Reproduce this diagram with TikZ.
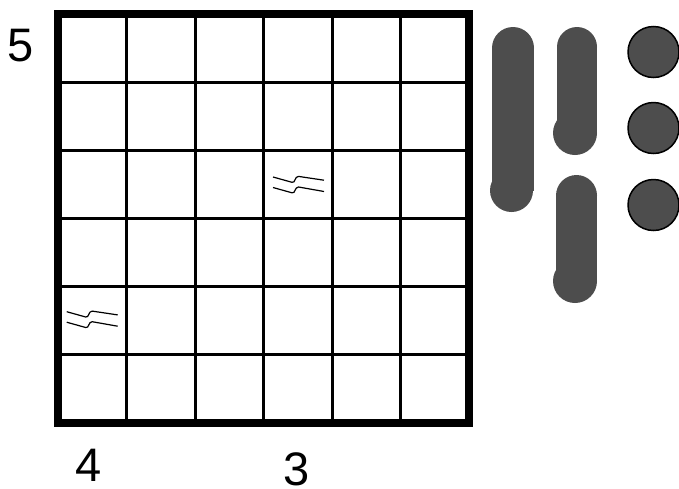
\documentclass[tikz,border=0pt]{standalone}
\usepackage{fontspec}
\setmainfont{Liberation Sans}
\definecolor{piece}{HTML}{4D4D4D}
\begin{document}
\begin{tikzpicture}[x=1pt,y=-1pt,
  thinline/.style={line width=3pt,black},
  frameline/.style={line width=8pt,black},
  squigline/.style={line width=1.2pt,black},
  lbl/.style={inner sep=0pt,font=\fontsize{47}{50}\selectfont},
  piecefill/.style={fill=piece,draw=none},
  dot/.style={fill=piece,draw=black,line width=1.5pt},
  squig/.pic={
    \draw[squigline] (0,0) -- (19,5.3) .. controls (22.5,6.3) and (21.5,-0.6) .. (25.5,-0.6) -- (51,3.2);
    \draw[squigline] (0,10.5) -- (19,15.8) .. controls (22.5,16.8) and (21.5,10) .. (25.5,10) -- (51,14.5);
  }]
\useasboundingbox (0,0) rectangle (679,488);
% grid
\foreach \gx in {126.5,195,263.5,332,400.5}
  \draw[thinline] (\gx,14) -- (\gx,423);
\foreach \gy in {82.2,150.3,218.5,286.7,354.8}
  \draw[thinline] (58.3,\gy) -- (468.5,\gy);
\draw[frameline] (58.3,14) rectangle (468.5,423);
% squiggles
\pic at (273,177) {squig};
\pic at (66.7,311.7) {squig};
% labels
\node[lbl] (l5) at (20.5,45.5) {5};
\node[lbl] (l4) at (89,465.5) {4};
\node[lbl] (l3) at (296.5,469.5) {3};
% pieces
\fill[piecefill] (492,48) rectangle (534,190.5);
\fill[piecefill] (513,48) circle (21);
\fill[piecefill] (511.5,190.5) circle (21.5);
\fill[piecefill] (557,47) rectangle (597,133);
\fill[piecefill] (577,47) circle (20);
\fill[piecefill] (575,133) circle (22);
\fill[piecefill] (556,195.5) rectangle (597,281);
\fill[piecefill] (576.5,195.5) circle (20.5);
\fill[piecefill] (575,281) circle (22);
% dots
\draw[dot] (653.5,52) circle (25.5);
\draw[dot] (653.5,128) circle (25.5);
\draw[dot] (653.5,205) circle (25.5);
\end{tikzpicture}
\end{document}
